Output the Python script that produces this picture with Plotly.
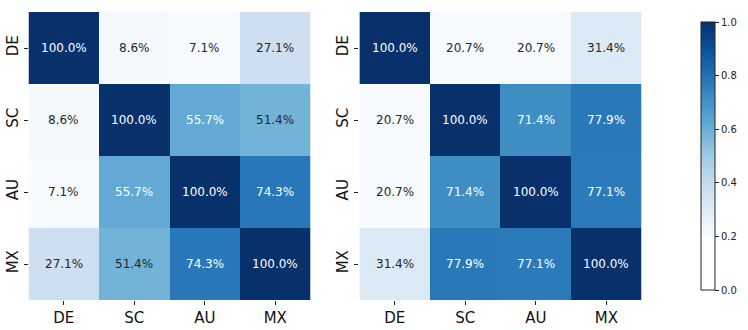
import plotly.graph_objects as go
import plotly.express as px

labels = ['DE', 'SC', 'AU', 'MX']

left_values = [[1.000, 0.086, 0.071, 0.271],
               [0.086, 1.000, 0.557, 0.514],
               [0.071, 0.557, 1.000, 0.743],
               [0.271, 0.514, 0.743, 1.000]]

right_values = [[1.000, 0.207, 0.207, 0.314],
                [0.207, 1.000, 0.714, 0.779],
                [0.207, 0.714, 1.000, 0.771],
                [0.314, 0.779, 0.771, 1.000]]

cbar_ticks = [0.0, 0.2, 0.4, 0.6, 0.8, 1.0]

blues = px.colors.sequential.Blues
font = 'DejaVu Sans'

fig = go.Figure()

panels = [(left_values, 'x', 'y'), (right_values, 'x2', 'y2')]
for values, xa, ya in panels:
    zmin = min(min(row) for row in values)
    fig.add_trace(go.Heatmap(z=values, x=labels, y=labels,
                             colorscale=blues, zmin=zmin, zmax=1,
                             showscale=False, hoverinfo='skip',
                             xaxis=xa, yaxis=ya))
    # cell labels, white on dark cells
    for i, row_name in enumerate(labels):
        for j, col_name in enumerate(labels):
            v = values[i][j]
            norm = (v - zmin) / (1 - zmin)
            fig.add_annotation(x=col_name, y=row_name, xref=xa, yref=ya,
                               text='%.1f%%' % (v * 100), showarrow=False,
                               font=dict(family=font, size=12,
                                         color='white' if norm > 0.5 else '#262626'))

# shared colorbar: white below 0.2, Blues above
cbar_scale = [[0.0, '#ffffff'], [0.2, '#ffffff']]
for k, c in enumerate(blues):
    cbar_scale.append([0.2 + 0.8 * k / (len(blues) - 1), c])
fig.add_trace(go.Scatter(x=[None], y=[None], mode='markers', showlegend=False,
                         marker=dict(color=[0], colorscale=cbar_scale, cmin=0, cmax=1,
                                     showscale=True,
                                     colorbar=dict(x=0.94, xanchor='left', y=0.0909,
                                                   yanchor='bottom', len=0.8727,
                                                   thickness=14, outlinewidth=1,
                                                   outlinecolor='#222222',
                                                   tickvals=cbar_ticks,
                                                   ticktext=['%.1f' % t for t in cbar_ticks],
                                                   ticks='outside', ticklen=4,
                                                   tickcolor='#222222',
                                                   tickfont=dict(family=font, size=10,
                                                                 color='#222222'))),
                         xaxis='x', yaxis='y'))

axis_style = dict(ticks='outside', ticklen=4, tickcolor='#222222', showgrid=False,
                  zeroline=False, showline=False,
                  tickfont=dict(family=font, size=15, color='#111111'))

fig.update_layout(
    width=748, height=330,
    margin=dict(l=0, r=0, t=0, b=0),
    paper_bgcolor='white', plot_bgcolor='white',
    xaxis=dict(domain=[0.0388, 0.4225], anchor='y', **axis_style),
    yaxis=dict(domain=[0.0909, 0.9636], anchor='x', autorange='reversed',
               tickangle=-90, **axis_style),
    xaxis2=dict(domain=[0.489, 0.873], anchor='y2', **axis_style),
    yaxis2=dict(domain=[0.0909, 0.9636], anchor='x2', autorange='reversed',
                tickangle=-90, **axis_style),
)

# drop the default page margin so the figure sits at the window's corner
fig.write_html('out.html', config={'displayModeBar': False},
               post_script="document.body.style.margin='0';document.body.style.overflow='hidden';")
